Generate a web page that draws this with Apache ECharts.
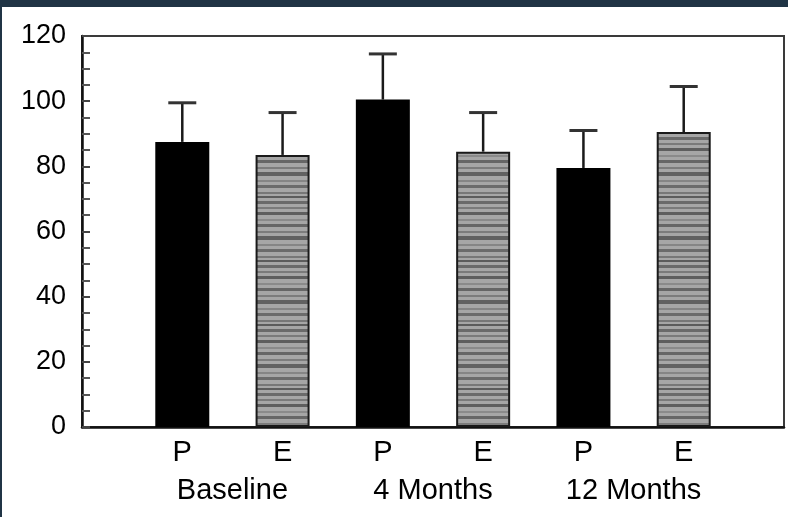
<!DOCTYPE html>
<html>
<head>
<meta charset="utf-8">
<script src="https://cdn.jsdelivr.net/npm/echarts@6/dist/echarts.min.js"></script>
<style>
html,body{margin:0;padding:0;background:#203445;width:788px;height:517px;overflow:hidden;}
#chart{position:absolute;left:2px;top:7px;width:786px;height:510px;background:#fff;}
</style>
</head>
<body>
<div id="chart"></div>
<script>
// ---- data ----
var categories = ['', 'P', 'E', 'P', 'E', 'P', 'E', ''];
var groups = ['Baseline', '4 Months', '12 Months'];
var groupTicks = ['', '', '', groups[0], '', '', '', groups[1], '', '', '', groups[2], '', '', ''];
var barIndex = [1, 2, 3, 4, 5, 6];
var barType = ['P', 'E', 'P', 'E', 'P', 'E'];
var means = [87.5, 83.5, 100.5, 84.5, 79.5, 90.5];
var upper = [99.5, 96.5, 114.5, 96.5, 91, 104.5];
var yTicks = [0, 20, 40, 60, 80, 100, 120];

// striped gray fill for E bars
function makePattern() {
  var c = document.createElement('canvas');
  c.width = 64; c.height = 64;
  var g = c.getContext('2d');
  g.fillStyle = '#a6a6a6';
  g.fillRect(0, 0, 64, 64);
  var stripes = [[2,3,'#6a6a6a'],[8,2,'#7a7a7a'],[13,3,'#5e5e5e'],[20,2,'#8a8a8a'],[25,3,'#666'],[32,2,'#7c7c7c'],[37,4,'#616161'],[45,2,'#858585'],[50,3,'#6b6b6b'],[57,2,'#777'],[61,2,'#5c5c5c']];
  stripes.forEach(function (s) { g.fillStyle = s[2]; g.fillRect(0, s[0], 64, s[1]); });
  return c;
}
var pattern = makePattern();

var barData = means.map(function (m, i) {
  return {
    value: [barIndex[i], m],
    itemStyle: barType[i] === 'P'
      ? { color: '#000', borderColor: '#000', borderWidth: 0 }
      : { color: { image: pattern, repeat: 'repeat' }, borderColor: '#1a1a1a', borderWidth: 2 }
  };
});
var errData = means.map(function (m, i) { return [barIndex[i], m, upper[i]]; });

var font = 'Liberation Sans, Arial, sans-serif';
var chart = echarts.init(document.getElementById('chart'), null, { renderer: 'canvas' });
chart.setOption({
  animation: false,
  backgroundColor: '#fff',
  grid: { left: 80, right: 4, top: 29, bottom: 90, show: true, borderColor: '#3a3a3a', borderWidth: 2, backgroundColor: 'transparent' },
  xAxis: [{
    type: 'category', data: categories, boundaryGap: false,
    axisLine: { lineStyle: { color: '#111', width: 2.5 } },
    axisTick: { show: false },
    axisLabel: { interval: 0, color: '#000', fontSize: 29, fontFamily: font, margin: 11 }
  }, {
    type: 'category', data: groupTicks, boundaryGap: false, position: 'bottom', offset: 38,
    axisLine: { show: false }, axisTick: { show: false },
    axisLabel: { interval: 0, color: '#000', fontSize: 29, fontFamily: font, margin: 11 }
  }],
  yAxis: {
    type: 'value', min: 0, max: 120, interval: 20,
    axisLine: { show: true, lineStyle: { color: '#111', width: 2.5 } },
    axisTick: { show: true, inside: true, length: 8, lineStyle: { color: '#444', width: 2 } },
    minorTick: { show: true, splitNumber: 4, length: 8, lineStyle: { color: '#555', width: 2 } },
    splitLine: { show: false },
    axisLabel: {
      color: '#000', fontSize: 27, fontFamily: font, margin: 16,
      formatter: function (v) { return yTicks.indexOf(v) >= 0 ? String(v) : ''; }
    }
  },
  series: [{
    type: 'bar', xAxisIndex: 0, data: barData, barWidth: 54
  }, {
    type: 'custom', xAxisIndex: 0, data: errData, z: 1,
    renderItem: function (params, api) {
      var base = api.coord([api.value(0), api.value(1)]);
      var top = api.coord([api.value(0), api.value(2)]);
      var hw = 14;
      return {
        type: 'group',
        children: [
          { type: 'line', shape: { x1: top[0], y1: base[1], x2: top[0], y2: top[1] }, style: { stroke: '#1a1a1a', lineWidth: 2.5 } },
          { type: 'line', shape: { x1: top[0] - hw, y1: top[1], x2: top[0] + hw, y2: top[1] }, style: { stroke: '#333', lineWidth: 3 } }
        ]
      };
    }
  }]
});
</script>
</body>
</html>
